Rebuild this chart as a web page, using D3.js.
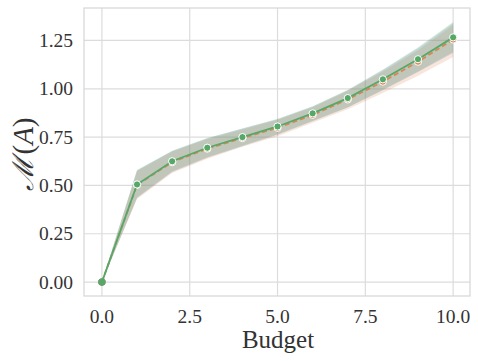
<!DOCTYPE html>
<html>
<head>
<meta charset="utf-8">
<script src="https://cdn.jsdelivr.net/npm/d3@7"></script>
<style>
  body { margin: 0; background: #fff; }
</style>
</head>
<body>
<svg id="chart" width="478" height="361"></svg>
<script>
var budget = [0, 1, 2, 3, 4, 5, 6, 7, 8, 9, 10];

// three runs, blue is hidden under green
var blueMean  = [0, 0.505, 0.624, 0.694, 0.749, 0.803, 0.871, 0.95, 1.046, 1.15, 1.262];
var blueLow   = [0, 0.435, 0.57, 0.643, 0.703, 0.762, 0.832, 0.903, 0.992, 1.087, 1.185];
var blueHigh  = [0, 0.578, 0.678, 0.744, 0.794, 0.843, 0.909, 0.993, 1.097, 1.21, 1.34];

var orangeMean = [0, 0.503, 0.62, 0.69, 0.745, 0.798, 0.865, 0.945, 1.037, 1.14, 1.255];
var orangeLow  = [0, 0.43, 0.565, 0.638, 0.7, 0.755, 0.824, 0.894, 0.978, 1.068, 1.165];
var orangeHigh = [0, 0.575, 0.675, 0.74, 0.79, 0.84, 0.905, 0.99, 1.09, 1.2, 1.33];

var greenMean = [0, 0.505, 0.625, 0.695, 0.75, 0.805, 0.873, 0.952, 1.049, 1.153, 1.266];
var greenLow  = [0, 0.437, 0.572, 0.646, 0.705, 0.765, 0.835, 0.905, 0.995, 1.09, 1.19];
var greenHigh = [0, 0.58, 0.68, 0.745, 0.795, 0.845, 0.91, 0.995, 1.1, 1.215, 1.345];

var xTicks = [0, 2.5, 5, 7.5, 10];
var yTicks = [0, 0.25, 0.5, 0.75, 1.0, 1.25];

var series = [
  {color: "#4c72b0", mean: blueMean, low: blueLow, high: blueHigh, dash: null, line: false},
  {color: "#dd8452", mean: orangeMean, low: orangeLow, high: orangeHigh, dash: "5,3", line: true},
  {color: "#55a868", mean: greenMean, low: greenLow, high: greenHigh, dash: null, line: true}
];

var serif = "Liberation Serif, DejaVu Serif, serif";

var svg = d3.select("#chart").attr("font-family", serif);
var margin = {left: 84, top: 8, right: 8, bottom: 65};
var w = 478 - margin.left - margin.right,
    h = 361 - margin.top - margin.bottom;

var x = d3.scaleLinear().domain([-0.51, 10.48]).range([0, w]);
var y = d3.scaleLinear().domain([-0.072, 1.418]).range([h, 0]);

var g = svg.append("g").attr("transform", "translate(" + margin.left + "," + margin.top + ")");

// grid
g.append("g").selectAll("line").data(xTicks).join("line")
  .attr("x1", d => x(d)).attr("x2", d => x(d))
  .attr("y1", 0).attr("y2", h)
  .style("stroke", "#dcdcdc").style("stroke-width", 1.2);
g.append("g").selectAll("line").data(yTicks).join("line")
  .attr("y1", d => y(d)).attr("y2", d => y(d))
  .attr("x1", 0).attr("x2", w)
  .style("stroke", "#dcdcdc").style("stroke-width", 1.2);

g.append("rect").attr("width", w).attr("height", h)
  .style("fill", "none").style("stroke", "#d6d6d6").style("stroke-width", 1.2);

// bands
var area = d3.area()
  .x((d, i) => x(budget[i]))
  .y0(d => y(d[0]))
  .y1(d => y(d[1]));

series.forEach(function(s) {
  g.append("path")
    .datum(s.low.map((v, i) => [v, s.high[i]]))
    .attr("d", area)
    .style("fill", s.color)
    .style("fill-opacity", 0.2);
});

var line = d3.line().x((d, i) => x(budget[i])).y(d => y(d));

series.forEach(function(s) {
  if (s.line) {
    g.append("path")
      .datum(s.mean)
      .attr("d", line)
      .style("fill", "none")
      .style("stroke", s.color)
      .style("stroke-width", 1.8)
      .style("stroke-dasharray", s.dash);
  }
  g.append("g").selectAll("circle").data(s.mean).join("circle")
    .attr("cx", (d, i) => x(budget[i]))
    .attr("cy", d => y(d))
    .attr("r", 3.6)
    .style("fill", s.color)
    .style("stroke", (d, i) => i == 0 ? "none" : "#fff")
    .style("stroke-width", 1);
});

// tick labels
g.append("g").selectAll("text").data(xTicks).join("text")
  .attr("x", d => x(d)).attr("y", h + 27)
  .attr("text-anchor", "middle")
  .attr("font-family", serif)
  .style("font-size", "19.5px").style("fill", "#333")
  .text(d => d3.format(".1f")(d));

g.append("g").selectAll("text").data(yTicks).join("text")
  .attr("x", -11).attr("y", d => y(d) + 6.5)
  .attr("text-anchor", "end")
  .attr("font-family", serif)
  .style("font-size", "19.5px").style("fill", "#333")
  .text(d => d3.format(".2f")(d));

g.append("text")
  .attr("x", w / 2 + 1).attr("y", h + 52)
  .attr("text-anchor", "middle")
  .attr("font-family", serif)
  .style("font-size", "25px").style("fill", "#333")
  .text("Budget");

var yl = svg.append("text")
  .attr("transform", "translate(33,154) rotate(-90)")
  .attr("text-anchor", "middle")
  .attr("font-family", serif)
  .style("font-size", "29px").style("fill", "#333");
yl.append("tspan").style("font-style", "italic").text("\u2133");
yl.append("tspan").attr("dx", 3).text("(");
yl.append("tspan").style("font-style", "italic").text("A");
yl.append("tspan").text(")");
</script>
</body>
</html>
